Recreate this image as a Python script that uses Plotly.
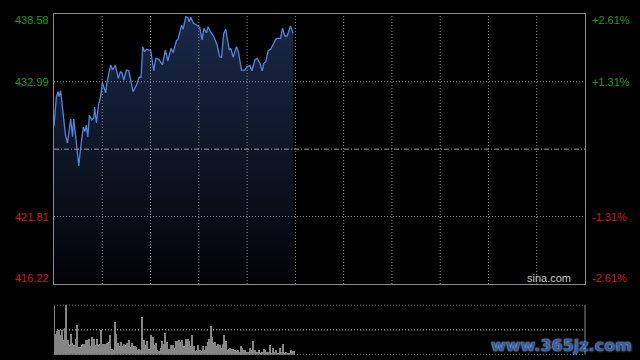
import plotly.graph_objects as go

# ---- data ----
minutes = [0.0, 1.2, 2.0, 2.5, 3.3, 4.5, 5.7, 6.7, 7.8, 8.3, 9.2, 9.8, 10.8, 12.3, 13.3,
           14.6, 15.4, 16.1, 16.8, 17.6, 18.8, 19.8, 20.2, 21.1, 22.1, 23.1, 24.1, 24.7,
           25.7, 26.4, 28.2, 29.1, 30.5, 32.0, 33.0, 33.8, 34.7, 36.0, 37.2, 39.3, 41.0,
           42.3, 43.3, 44.1, 45.0, 46.0, 48.1, 49.6, 50.6, 52.2, 53.9, 55.4, 56.6, 58.2,
           59.2, 60.9, 61.7, 63.4, 64.2, 65.5, 66.5, 67.2, 68.0, 69.2, 70.8, 72.5, 73.6,
           74.5, 75.8, 76.6, 77.8, 79.5, 81.1, 82.4, 83.3, 84.4, 85.4, 87.1, 87.9, 89.1,
           90.7, 91.7, 93.2, 94.9, 96.0, 97.4, 98.4, 99.9, 101.0, 102.4, 103.5, 104.3,
           105.3, 106.5, 107.7, 108.7, 109.3, 110.3, 111.0, 112.6, 113.6, 114.8, 115.9,
           117.6, 118.9]
prices = [429.32, 431.75, 432.16, 431.75, 432.25, 430.40, 428.57, 427.91, 429.57, 429.90,
          428.43, 429.90, 428.43, 426.00, 427.60, 429.24, 428.85, 429.40, 428.43, 430.23,
          429.82, 429.98, 430.89, 429.57, 431.06, 431.70, 432.91, 432.64, 432.08, 432.99,
          434.38, 433.96, 434.35, 433.27, 433.82, 433.74, 433.13, 433.96, 433.90, 432.16,
          432.72, 433.36, 433.36, 435.89, 435.48, 435.68, 435.56, 433.90, 434.93, 434.85,
          434.38, 435.62, 434.73, 435.76, 435.40, 436.39, 436.51, 437.69, 437.34, 438.38,
          438.33, 437.97, 438.33, 437.88, 437.69, 437.50, 436.45, 437.42, 437.05, 437.55,
          437.14, 436.72, 436.03, 435.06, 435.01, 437.00, 437.34, 435.62, 435.76, 435.01,
          435.89, 435.48, 433.96, 433.96, 434.24, 434.32, 433.90, 434.79, 434.93, 434.52,
          433.90, 434.52, 434.65, 435.56, 435.68, 436.03, 436.18, 436.51, 436.59, 436.59,
          437.42, 436.78, 436.78, 437.61, 437.00]

volumes = [146, 64, 72, 76, 59, 76, 44, 82, 150, 46, 29, 62, 36, 29, 49, 89, 24, 24, 29, 32,
           32, 44, 46, 49, 26, 54, 49, 30, 49, 29, 32, 76, 32, 32, 34, 36, 39, 59, 19, 14,
           98, 62, 36, 26, 39, 26, 34, 31, 36, 44, 24, 36, 26, 26, 24, 14, 19, 14, 114, 46,
           29, 42, 19, 19, 59, 54, 29, 37, 14, 12, 22, 42, 34, 66, 39, 19, 19, 29, 29, 22,
           42, 42, 46, 39, 44, 26, 26, 49, 49, 42, 26, 59, 26, 12, 14, 29, 14, 12, 26, 14,
           26, 39, 49, 86, 54, 36, 39, 26, 32, 29, 22, 32, 59, 42, 16, 19, 22, 19, 19, 16,
           12, 14, 10, 26, 22, 14, 16, 9, 10, 22, 16, 42, 14, 10, 8, 14, 6, 9, 19, 14, 9,
           9, 29, 6, 22, 8, 14, 6, 6, 21, 9, 32, 6, 8, 4, 6, 14, 12, 12]

prev_close = 427.40
price_ticks = [438.58, 432.99, 421.81, 416.22]
price_labels = ["438.58", "432.99", "421.81", "416.22"]
pct_labels = ["+2.61%", "+1.31%", "-1.31%", "-2.61%"]
label_colors = ["#1a9e1a", "#1a9e1a", "#d01a12", "#d01a12"]
label_shift = [-6, 0, 0, 6]

ymin, ymax = 416.22, 438.58
session_minutes = 264
grid_step = 24
vol_slots = 350
vol_max = 150

GRID = "#8c8c8c"
DOT = "1px,2px"

fig = go.Figure()

# baseline for the area fill
fig.add_trace(go.Scatter(x=[minutes[0], minutes[-1]], y=[ymin, ymin], mode="lines",
                         line=dict(width=0, color="rgba(0,0,0,0)"), hoverinfo="skip",
                         showlegend=False, xaxis="x", yaxis="y"))
fig.add_trace(go.Scatter(x=minutes, y=prices, mode="lines",
                         line=dict(color="#4f86e0", width=1.3),
                         fill="tonexty",
                         fillgradient=dict(type="vertical",
                                           colorscale=[[0, "rgb(2,3,6)"], [1, "rgb(26,41,72)"]],
                                           start=ymin, stop=ymax),
                         showlegend=False, xaxis="x", yaxis="y"))

fig.add_trace(go.Bar(x=list(range(len(volumes))), y=volumes, width=0.65,
                     marker=dict(color="#858585", line=dict(width=0)),
                     showlegend=False, xaxis="x2", yaxis="y2"))

left, right = 54 / 640, 585 / 640
fig.update_layout(
    width=640, height=360, autosize=False,
    margin=dict(l=0, r=0, t=0, b=0),
    paper_bgcolor="black", plot_bgcolor="black",
    font=dict(family="Liberation Sans, Arial", size=11),
    xaxis=dict(domain=[left, right], range=[0, session_minutes],
               showticklabels=False, showgrid=False, zeroline=False, showline=True,
               mirror=True, linecolor="#8a8a8a", linewidth=1, ticks=""),
    yaxis=dict(domain=[76 / 360, 345.7 / 360], range=[ymin, ymax],
               showticklabels=False, showgrid=False, zeroline=False, showline=True,
               mirror=True, linecolor="#8a8a8a", linewidth=1, ticks=""),
    xaxis2=dict(domain=[left, right], range=[-0.2, vol_slots - 0.2], anchor="y2",
                showticklabels=False, showgrid=False, zeroline=False, showline=False),
    yaxis2=dict(domain=[5.3 / 360, 55.3 / 360], range=[0, vol_max], anchor="x2",
                showticklabels=False, showgrid=False, zeroline=False,
                showline=False, ticks=""),
    bargap=0,
)

# price panel grid (drawn above the fill, as in the reference)
for k in range(1, session_minutes // grid_step):
    fig.add_shape(type="line", xref="x", yref="y domain", x0=grid_step * k, x1=grid_step * k,
                  y0=0, y1=1, line=dict(color=GRID, width=1, dash=DOT), layer="above")
for yv in (price_ticks[1], price_ticks[2]):
    fig.add_shape(type="line", xref="x domain", yref="y", x0=0, x1=1, y0=yv, y1=yv,
                  line=dict(color=GRID, width=1, dash=DOT), layer="above")
# previous close line
fig.add_shape(type="line", xref="x domain", yref="y", x0=0, x1=1, y0=prev_close, y1=prev_close,
              line=dict(color="#9a9a9a", width=1, dash="5px,2px,1px,2px"), layer="above")
# volume panel: dotted lines, right border
for yv in (0, vol_max / 2, vol_max):
    fig.add_shape(type="line", xref="x2 domain", yref="y2", x0=0, x1=1, y0=yv, y1=yv,
                  line=dict(color=GRID, width=1.5, dash=DOT), layer="above")
fig.add_shape(type="line", xref="x2 domain", yref="y2 domain", x0=1, x1=1, y0=0, y1=1,
              line=dict(color="#8a8a8a", width=1))

for v, lab, pct, col, sh in zip(price_ticks, price_labels, pct_labels, label_colors, label_shift):
    fig.add_annotation(x=51 / 640, xref="paper", y=v, yref="y", yshift=sh, text=lab,
                       showarrow=False, xanchor="right", yanchor="middle",
                       font=dict(color=col, size=11))
    fig.add_annotation(x=590 / 640, xref="paper", y=v, yref="y", yshift=sh, text=pct,
                       showarrow=False, xanchor="left", yanchor="middle",
                       font=dict(color=col, size=11))

fig.add_annotation(x=573 / 640, xref="paper", y=ymin, yref="y", yshift=6, text="sina.com",
                   showarrow=False, xanchor="right", yanchor="middle",
                   font=dict(color="#c8c8c8", size=11))
fig.add_annotation(x=634 / 640, xref="paper", y=15 / 360, yref="paper", yanchor="middle",
                   text="<b>www.365jz.com</b>", showarrow=False, xanchor="right",
                   font=dict(color="#2f5fa8", size=16, family="DejaVu Sans",
                             shadow="0px 0px 2px #e8f0ff"))

fig.write_html("out.html", config={"displayModeBar": False},
               post_script="document.body.style.margin='0';document.body.style.background='black';")
